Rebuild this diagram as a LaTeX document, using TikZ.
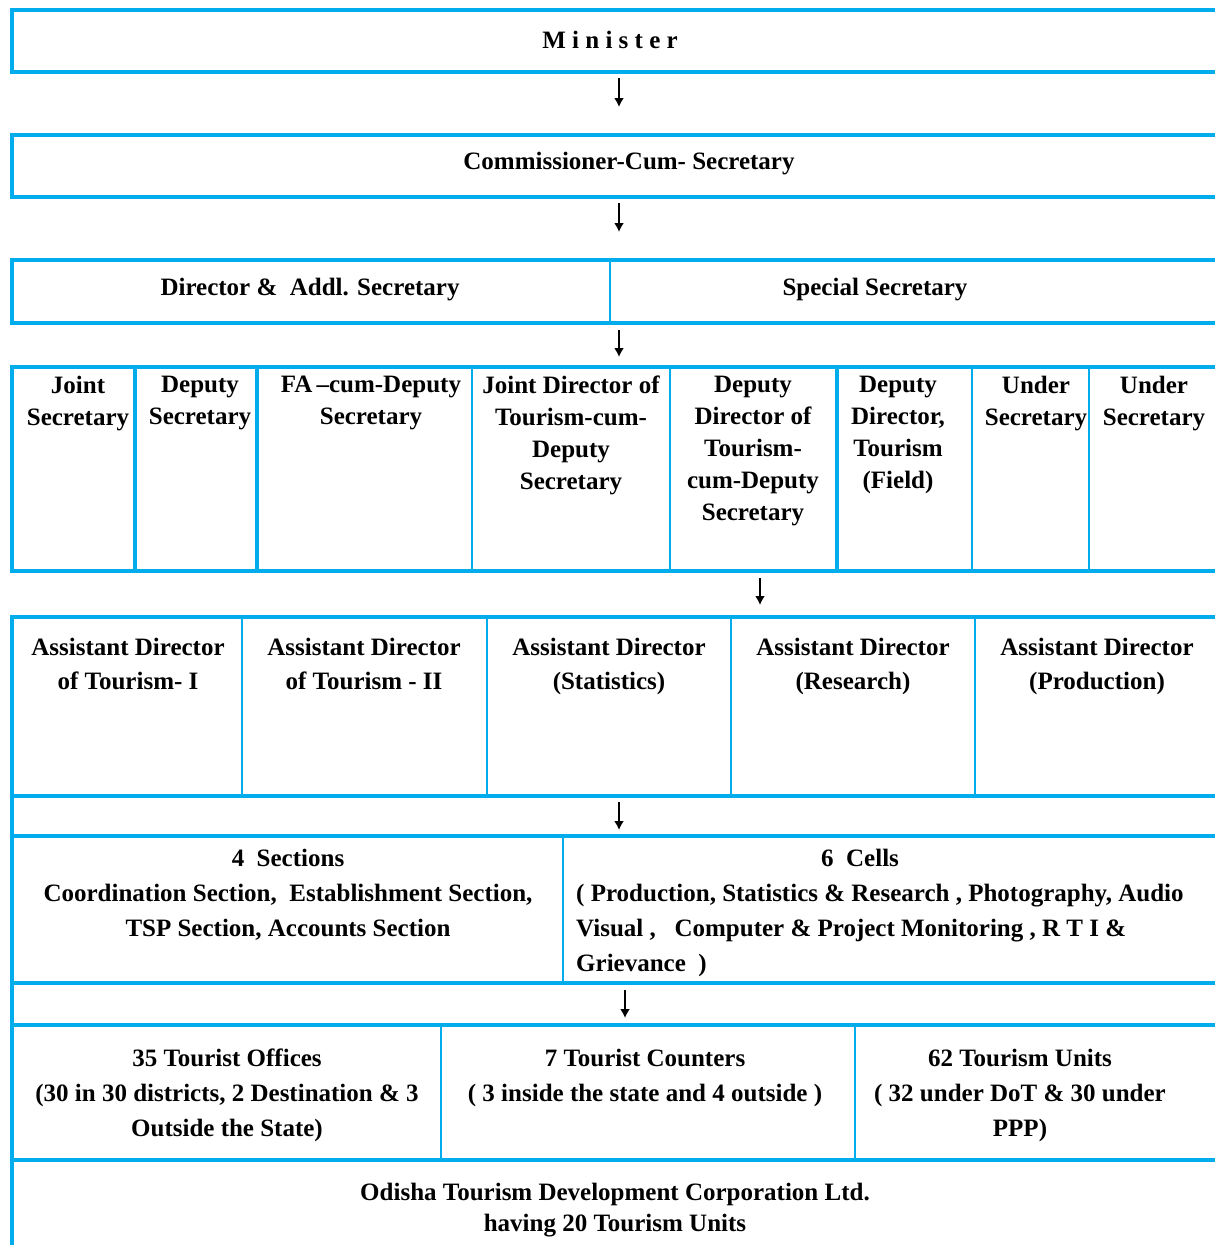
\documentclass[tikz,border=0pt]{standalone}
\usepackage{fontspec}
\setmainfont{Liberation Serif}
\usepackage{tikz}
\usetikzlibrary{arrows.meta}

\definecolor{chartcyan}{RGB}{0,172,236}

\tikzset{
  frame/.style={draw=chartcyan, line width=4.5pt, rectangle, anchor=north west,
    inner sep=0pt, outer sep=0pt, minimum width=1215pt},
  divthin/.style={draw=chartcyan, line width=2.8pt},
  divthick/.style={draw=chartcyan, line width=4.5pt},
  post/.style={font=\bfseries\fontsize{25}{#1}\selectfont, align=center,
    inner sep=0pt, anchor=north},
  post/.default=33,
  down/.style={-{Latex[length=9pt,width=10pt]}, line width=1.8pt, black},
}

\begin{document}
\begin{tikzpicture}[x=1pt, y=-1pt]
\useasboundingbox (0,0) rectangle (1215,1245);

% frames, top to bottom
\node[frame, minimum height=62pt]  (minister) at (12,10) {};
\node[frame, minimum height=62pt]  (commsec)  at (12,135) {};
\node[frame, minimum height=63pt]  (tier3)    at (12,260) {};
\node[frame, minimum height=204pt] (tier4)    at (12,367) {};
\node[frame, minimum height=179pt] (tier5)    at (12,617) {};
\node[frame, minimum height=40pt]  (link5)    at (12,796) {};
\node[frame, minimum height=147pt] (tier6)    at (12,836) {};
\node[frame, minimum height=42pt]  (link6)    at (12,983) {};
\node[frame, minimum height=135pt] (tier7)    at (12,1025) {};
\node[frame, minimum height=130pt] (tier8)    at (12,1160) {};

% dividers
\draw[divthin] (610,0 |- tier3.north) -- (610,0 |- tier3.south);
\foreach \x/\w in {135/thick, 257/thick, 472/thin, 670/thin, 837/thick, 972/thin, 1089/thin}
  \draw[div\w] (\x,0 |- tier4.north) -- (\x,0 |- tier4.south);
\foreach \x in {242, 487, 731, 975}
  \draw[divthin] (\x,0 |- tier5.north) -- (\x,0 |- tier5.south);
\draw[divthin] (563,0 |- tier6.north) -- (563,0 |- tier6.south);
\foreach \x in {441, 855}
  \draw[divthin] (\x,0 |- tier7.north) -- (\x,0 |- tier7.south);

% posts
\node[post, anchor=center] (ministerT) at (610,40) {\addfontfeature{LetterSpace=25}Minister};
\node[post, anchor=center] (commsecT) at (629,164) {Commissioner-Cum- Secretary};
\node[post, anchor=center] (dirT) at (310,290) {Director \&\ \ Addl. Secretary};
\node[post, anchor=center] (specT) at (875,290) {Special Secretary};

\node[post=32] (jsec)  at (78,376)   {Joint\\Secretary};
\node[post=32] (dsec)  at (200,376)  {Deputy\\Secretary};
\node[post=32] (fasec) at (371,376)  {FA\,--cum-Deputy\\Secretary};
\node[post=32] (jdir)  at (571,376)  {Joint Director of\\Tourism-cum-\\Deputy\\Secretary};
\node[post=32] (ddir)  at (753,376)  {Deputy\\Director of\\Tourism-\\cum-Deputy\\Secretary};
\node[post=32] (dfld)  at (898,376)  {Deputy\\Director,\\Tourism\\(Field)};
\node[post=32] (usecA) at (1036,376) {Under\\Secretary};
\node[post=32] (usecB) at (1154,376) {Under\\Secretary};

\node[post=34] (adA) at (128,638)  {Assistant Director\\of Tourism- I};
\node[post=34] (adB) at (364,638)  {Assistant Director\\of Tourism - II};
\node[post=34] (adS) at (609,638)  {Assistant Director\\(Statistics)};
\node[post=34] (adR) at (853,638)  {Assistant Director\\(Research)};
\node[post=34] (adP) at (1097,638) {Assistant Director\\(Production)};

\node[post=35] (sections) at (288,849)
  {4\ \ Sections\\Coordination Section,\ \ Establishment Section,\\TSP Section, Accounts Section};
\node[post=35, align=left, anchor=north west] (cells) at (576,849)
  {\hspace*{245pt}6\ \ Cells\\( Production, Statistics \& Research , Photography, Audio\\Visual ,\ \ \ Computer \& Project Monitoring , R T I \&\\Grievance\ \ )};

\node[post=35] (offices)  at (227,1049)  {35 Tourist Offices\\(30 in 30 districts, 2 Destination \& 3\\Outside the State)};
\node[post=35] (counters) at (645,1049)  {7 Tourist Counters\\( 3 inside the state and 4 outside )};
\node[post=35] (units)    at (1020,1049) {62 Tourism Units\\( 32 under DoT \& 30 under\\PPP)};

\node[post=31] (otdc) at (615,1183) {Odisha Tourism Development Corporation Ltd.\\having 20 Tourism Units};

% arrows
\draw[down, shorten <=6pt, shorten >=28pt] (619,0 |- minister.south) -- (619,0 |- commsec.north);
\draw[down, shorten <=6pt, shorten >=28pt] (619,0 |- commsec.south) -- (619,0 |- tier3.north);
\draw[down, shorten <=7pt, shorten >=10pt] (619,0 |- tier3.south) -- (619,0 |- tier4.north);
\draw[down, shorten <=7pt, shorten >=12pt] (760,0 |- tier4.south) -- (760,0 |- tier5.north);
\draw[down, shorten <=6pt, shorten >=6pt]  (619,0 |- link5.north) -- (619,0 |- link5.south);
\draw[down, shorten <=7pt, shorten >=7pt]  (625,0 |- link6.north) -- (625,0 |- link6.south);
\end{tikzpicture}
\end{document}
